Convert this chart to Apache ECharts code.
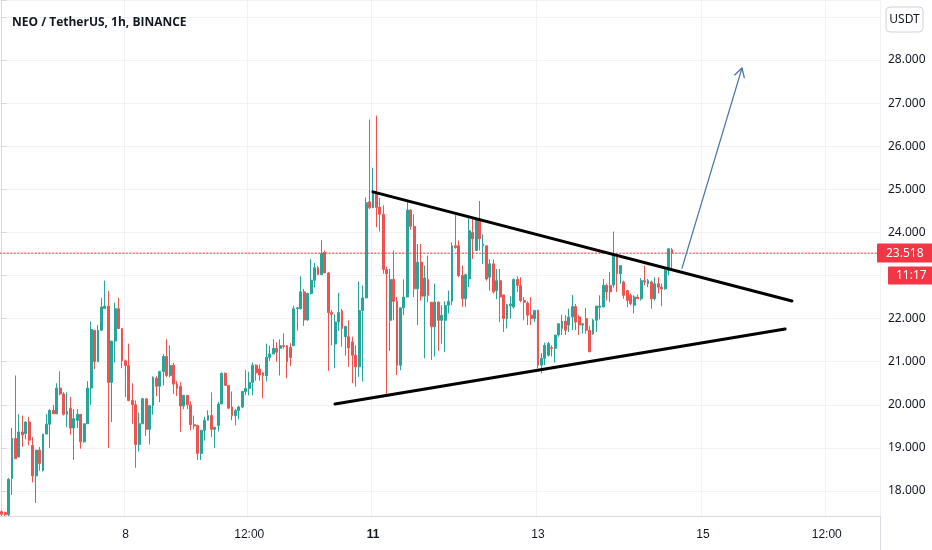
<!DOCTYPE html>
<html>
<head>
<meta charset="utf-8">
<script src="https://cdn.jsdelivr.net/npm/echarts@6/dist/echarts.min.js"></script>
<style>
html,body{margin:0;padding:0;background:#fff;}
#c{width:932px;height:550px;}
</style>
</head>
<body>
<div id="c"></div>
<script>
// ---- data ----
// candles: [open, close, low, high], hourly from Jan 6 12:00
var candles = [
[17.52,17.46,17.42,17.55],[17.50,17.45,17.42,17.52],[17.45,18.27,17.42,18.30],[18.29,19.22,17.91,19.46],
[19.22,18.75,18.75,20.68],[18.79,19.37,18.79,19.78],[19.37,19.30,19.02,19.75],[19.33,19.60,19.20,19.62],
[19.60,19.18,19.06,19.72],[19.06,18.35,18.20,19.25],[18.35,18.95,17.72,18.95],[18.95,18.64,18.47,19.02],
[18.48,19.32,18.45,19.32],[19.32,19.55,19.32,19.78],[19.55,19.87,19.00,19.90],[19.87,19.79,19.79,20.00],
[19.79,20.39,19.79,20.50],[20.39,20.25,20.22,20.78],[20.25,19.78,19.75,20.29],[19.78,19.85,19.48,20.29],
[19.92,19.46,19.31,20.18],[19.46,19.68,18.72,19.90],[19.64,19.78,19.46,19.90],[19.78,19.14,18.98,19.78],
[19.14,19.56,19.12,19.56],[19.56,20.39,19.56,20.55],[20.39,21.75,20.00,21.93],[21.73,21.00,20.83,21.73],
[21.00,21.73,21.00,21.85],[21.73,22.27,21.71,22.48],[22.23,22.29,22.23,22.88],[22.29,20.52,19.00,22.64],
[20.52,21.48,19.60,21.48],[21.48,22.23,20.98,22.37],
[22.23,21.77,21.75,22.48],[21.77,21.02,20.85,21.77],[21.02,20.91,20.18,21.05],[20.91,20.10,20.08,21.42],
[20.10,20.00,19.56,20.50],[20.00,19.08,18.54,20.10],[19.08,19.56,18.92,19.82],[19.56,20.14,19.55,20.16],
[20.14,19.43,19.28,20.14],[19.43,19.98,19.08,20.00],[19.98,20.64,19.77,20.66],[20.62,20.43,20.20,20.66],
[20.43,20.77,20.06,20.79],[20.77,21.12,20.45,21.18],[21.12,20.68,20.64,21.52],[20.68,20.91,20.64,21.38],
[20.92,20.48,20.25,20.97],[20.48,20.38,20.20,20.55],[20.43,19.97,19.37,20.52],[19.97,20.22,19.90,20.22],
[20.22,20.00,19.90,20.22],[20.00,19.54,19.41,20.08],[19.54,19.51,19.43,19.75],[19.52,18.87,18.72,19.54],
[18.87,19.41,18.72,19.41],[19.41,19.64,19.17,19.72],[19.64,19.75,19.64,19.87],[19.75,19.43,19.25,20.29],
[19.43,19.48,19.00,19.48],[19.52,20.02,19.38,20.06],[20.02,20.73,20.02,20.75],[20.73,20.45,20.45,20.75],
[20.45,19.92,19.90,20.45],[19.95,19.75,19.64,20.31],
[19.75,19.87,19.52,19.90],[19.87,19.95,19.66,19.98],[19.95,20.31,19.92,20.31],[20.31,20.38,20.22,20.81],
[20.38,20.52,20.22,20.77],[20.52,20.92,20.22,20.98],[20.92,20.74,20.56,20.94],[20.83,20.69,20.56,20.94],
[20.74,20.68,20.15,20.76],[20.68,21.10,20.54,21.42],[21.10,21.18,21.02,21.37],[21.18,21.31,21.18,21.52],
[21.31,21.22,21.00,21.45],[21.31,21.37,20.68,21.52],[21.37,21.35,21.30,21.66],[21.37,21.00,20.62,21.38],
[21.33,21.10,20.90,21.43],[21.37,22.23,21.37,22.30],[22.23,22.25,21.72,22.27],[22.23,22.62,22.21,22.98],
[22.62,21.97,21.83,22.69],[21.97,22.58,21.95,22.60],[22.58,22.89,22.56,23.38],[22.89,23.18,22.72,23.29],
[23.18,23.02,23.02,23.22],[23.02,23.51,23.02,23.82],[23.54,23.06,23.06,23.58],[23.06,22.14,20.79,23.08],
[22.14,22.10,21.38,22.20],[21.41,21.92,20.85,22.10],[21.92,22.14,21.72,22.60],[22.18,21.77,21.35,22.22],
[21.58,21.82,21.14,21.82],[21.58,21.32,20.88,21.96],
[21.46,21.15,20.50,21.58],[21.15,20.88,20.42,21.38],[20.88,22.19,20.65,22.86],[22.19,22.48,20.54,22.77],
[22.48,24.69,22.48,24.81],[24.71,24.57,24.54,26.62],[24.57,24.92,24.57,25.50],[24.92,24.58,24.12,26.71],
[24.59,24.42,24.02,24.80],[24.42,23.14,23.04,24.63],[23.14,23.04,20.20,23.20],[21.96,22.91,21.25,23.15],
[22.91,22.40,21.96,23.58],[22.40,20.92,20.69,22.50],[20.92,22.25,20.80,22.25],[22.25,22.50,22.08,22.91],
[22.50,24.52,22.50,24.73],[24.52,24.14,24.06,24.54],[24.14,22.69,22.50,24.42],[22.69,23.31,21.85,23.73],
[23.31,22.52,22.42,23.73],[22.52,22.94,21.08,23.23],[22.91,22.54,22.38,23.46],[22.38,21.81,21.04,22.38],
[21.81,22.38,21.12,22.81],[22.38,21.96,21.25,22.40],[21.96,22.08,21.42,22.31],[21.96,22.31,21.23,22.40],
[22.31,22.40,22.12,22.65],[22.40,23.69,22.31,23.77],[23.69,23.65,23.62,24.40],[23.69,23.00,22.96,23.81],
[23.00,22.46,22.27,23.23],
[22.46,23.02,22.27,23.04],[22.92,24.04,22.73,24.38],[24.00,23.85,23.38,24.35],[23.58,24.31,23.58,24.35],
[24.31,23.85,23.58,24.73],[23.69,23.73,23.27,23.96],[23.69,22.92,22.88,23.69],[22.96,23.27,22.65,23.38],
[23.27,22.62,22.58,23.37],[22.65,22.88,22.45,23.15],[22.88,22.50,21.92,23.15],[22.55,22.00,21.69,22.55],
[22.00,22.32,21.77,22.34],[22.30,22.34,22.00,22.52],[22.27,22.91,22.23,22.93],[22.91,22.77,22.62,22.98],
[22.77,22.42,22.38,22.96],[22.42,22.38,21.96,22.50],[22.36,22.08,21.85,22.40],[22.08,22.00,21.85,22.50],
[22.00,22.19,21.92,22.19],[22.19,20.92,20.85,22.21],[20.92,21.08,20.73,21.20],[21.08,21.38,20.92,21.44],
[21.15,21.42,21.12,21.46],[21.33,21.31,21.12,21.38],[21.31,21.62,20.98,21.62],[21.62,21.88,21.58,21.88],
[21.77,21.94,21.62,22.09],[21.94,21.73,21.62,22.08],[21.85,22.04,21.69,22.23],[22.04,22.28,21.73,22.55],
[22.28,21.92,21.73,22.34],
[22.04,21.85,21.62,22.08],[21.85,21.88,21.65,21.90],[22.00,21.73,21.65,22.25],[21.73,21.23,21.23,21.83],
[21.65,21.96,21.62,22.00],[21.96,22.29,21.69,22.29],[22.26,22.29,21.98,22.54],[22.27,22.77,22.27,22.92],
[22.77,22.62,22.42,22.81],[22.77,22.62,22.38,23.08],[22.78,23.50,22.72,24.02],[23.46,23.04,22.62,23.50],
[23.04,23.23,22.81,23.23],[22.85,22.54,22.46,22.88],[22.65,22.42,22.27,22.65],[22.54,22.35,22.31,22.58],
[22.31,22.50,22.12,22.54],[22.50,22.46,22.46,22.56],[22.46,22.88,22.42,22.94],[22.88,22.85,22.77,23.23],
[22.81,22.88,22.73,22.92],[22.85,22.46,22.23,22.88],[22.46,22.81,22.42,22.96],[22.81,22.73,22.58,22.96],
[22.73,22.69,22.29,22.81],[22.69,23.12,22.67,23.20],[23.12,23.62,23.00,23.64],[23.60,23.518,23.12,23.64]
];
var lastPrice = 23.518;
var countdown = '11:17';
var countdownAt = 23.0;               // price level the countdown tag sits on
var totalSlots = 256;                 // hourly slots shown on the time axis
var tickIndex = [36, 72, 108, 156, 204, 240];
var tickText  = ['8', '12:00', '11', '13', '15', '12:00'];
var boldTicks = ['11'];
// drawings: [slot index, price]
var upperLine = [[108, 24.94], [229.9, 22.41]];
var lowerLine = [[96.95, 20.02], [227.9, 21.76]];
var arrowLine = [[197.9, 23.17], [215.35, 27.81]];
var arrowHead = [[213.23, 27.654], [215.35, 27.814], [216.02, 27.589]];

// ---- categories ----
var categories = [];
for (var i = 0; i < totalSlots; i++) {
  var h = 12 + i;
  var d = 6 + Math.floor(h / 24);
  var hh = h % 24;
  categories.push('Jan ' + d + ' ' + (hh < 10 ? '0' : '') + hh + ':00');
}
function isTick(idx) { return tickIndex.indexOf(idx) >= 0; }

var chart = echarts.init(document.getElementById('c'), null, {renderer: 'canvas'});
var font = '"Liberation Sans", Arial, sans-serif';
var UP = '#26a69a', DOWN = '#ef5350', RED = '#f23645';

function drawSeries(data, color, width, type) {
  return {
    type: 'line', xAxisIndex: 1, yAxisIndex: 0, data: data,
    symbol: 'none', showSymbol: false, silent: true, animation: false, z: 5,
    lineStyle: {color: color, width: width, cap: 'round', type: type || 'solid'}
  };
}
function tagSeries(price, text, distance, padding) {
  return {
    type: 'candlestick', xAxisIndex: 0, yAxisIndex: 0, data: [],
    silent: true, animation: false,
    markLine: {
      silent: true, symbol: ['none', 'none'], animation: false,
      lineStyle: {color: 'rgba(0,0,0,0)', width: 0.01},
      data: [{yAxis: price,
        label: {show: true, position: 'end', distance: distance, formatter: text,
                color: '#fff', backgroundColor: RED, padding: padding, fontSize: 12,
                fontFamily: '"Noto Sans", sans-serif', borderRadius: 1}}]
    }
  };
}

chart.setOption({
  animation: false,
  backgroundColor: '#ffffff',
  title: {
    text: 'NEO / TetherUS, 1h, BINANCE', left: 7, top: 12,
    textStyle: {fontFamily: '"Open Sans", "Noto Sans", sans-serif', fontSize: 12, fontWeight: 'bold', color: '#131722'}
  },
  grid: {left: 0, right: 52, top: 0, bottom: 34},
  xAxis: [{
    type: 'category', data: categories, boundaryGap: true,
    axisLine: {show: true, lineStyle: {color: '#d8dbe2', width: 1}},
    axisTick: {show: false},
    axisLabel: {
      interval: function (idx) { return isTick(idx); },
      formatter: function (v, idx) {
        var k = tickIndex.indexOf(idx);
        if (k < 0) return '';
        var t = tickText[k];
        return boldTicks.indexOf(t) >= 0 ? '{b|' + t + '}' : t;
      },
      rich: {b: {fontWeight: 'bold', fontSize: 12, fontFamily: font, color: '#131722'}},
      color: '#131722', fontSize: 12, fontFamily: font, margin: 13
    },
    splitLine: {show: true, interval: function (idx) { return isTick(idx); }, lineStyle: {color: '#f0f2f5', width: 1}}
  }, {
    type: 'value', min: -0.5, max: totalSlots - 0.5, show: false
  }],
  yAxis: [{
    type: 'value', position: 'right', min: 17.42, max: 29.392, splitNumber: 12, scale: true,
    axisLine: {show: true, lineStyle: {color: '#d8dbe2'}},
    axisTick: {show: true, length: 5, lineStyle: {color: '#d8dbe2'}},
    axisLabel: {
      color: '#131722', fontSize: 12, fontFamily: '"Noto Sans", sans-serif', margin: 8,
      formatter: function (v) {
        if (Math.abs(v - Math.round(v)) > 1e-6) return '';
        if (v > 28.5 || v < 17.9 || Math.round(v) === 23) return '';
        return v.toFixed(3);
      }
    },
    splitLine: {show: true, lineStyle: {color: '#f0f2f5', width: 1}}
  }],
  series: [{
    type: 'candlestick', xAxisIndex: 0, yAxisIndex: 0, data: candles,
    barWidth: 2.4, z: 3,
    itemStyle: {color: UP, color0: DOWN, borderColor: UP, borderColor0: DOWN, borderWidth: 1}
  },
  drawSeries([[-0.5, lastPrice], [totalSlots - 0.5, lastPrice]], RED, 1, [1.5, 2]),
  tagSeries(lastPrice, lastPrice.toFixed(3), -3, [4, 9, 3, 9]),
  tagSeries(countdownAt, countdown, 8, [3, 8, 3, 8]),
  drawSeries(upperLine, '#000000', 3),
  drawSeries(lowerLine, '#000000', 3),
  drawSeries(arrowLine, '#4a78ab', 1.3),
  drawSeries(arrowHead, '#4a78ab', 1.3)
  ],
  graphic: [
    {type: 'line', shape: {x1: 880.5, y1: 516, x2: 880.5, y2: 550}, style: {stroke: '#d8dbe2', lineWidth: 1}, silent: true},
    {type: 'rect', shape: {x: 886, y: 7, width: 37, height: 25, r: 4}, style: {fill: '#fff', stroke: '#cfd2d9', lineWidth: 1}, silent: true},
    {type: 'text', x: 904.5, y: 19.5, style: {text: 'USDT', fill: '#131722', font: '12px "Noto Sans", sans-serif', textAlign: 'center', textVerticalAlign: 'middle'}, silent: true}
  ]
});
</script>
</body>
</html>
